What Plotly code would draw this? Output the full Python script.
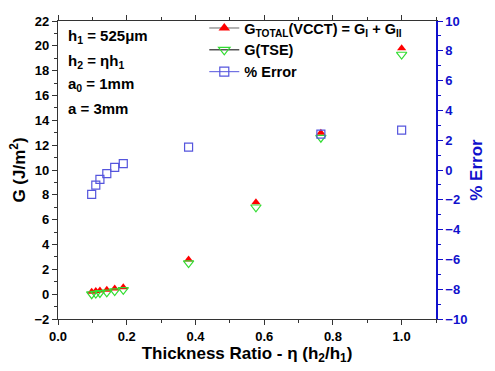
import plotly.graph_objects as go

eta = [0.098, 0.11, 0.122, 0.142, 0.165, 0.19, 0.38, 0.576, 0.765, 1.0]
g_total = [0.2, 0.25, 0.3, 0.35, 0.45, 0.55, 2.8, 7.4, 13.0, 19.8]
g_tse = [0.0, 0.05, 0.1, 0.15, 0.25, 0.35, 2.5, 7.0, 12.6, 19.3]
err = [-1.63, -1.02, -0.63, -0.24, 0.17, 0.43, 1.54, 2.41, 2.67]
err_eta = [0.098, 0.11, 0.122, 0.142, 0.165, 0.19, 0.38, 0.765, 1.0]

FONT = "Liberation Sans"
BLUE = "#1010CC"

fig = go.Figure()
fig.add_trace(go.Scatter(x=eta, y=g_total, mode="markers", showlegend=False,
                         marker=dict(symbol="triangle-up", size=8, color="#FF0000", line=dict(width=0))))
fig.add_trace(go.Scatter(x=eta, y=g_tse, mode="markers", showlegend=False,
                         marker=dict(symbol="triangle-down-open", size=9, color="#33DD33", line=dict(width=1.2))))
fig.add_trace(go.Scatter(x=err_eta, y=err, mode="markers", showlegend=False, yaxis="y2",
                         marker=dict(symbol="square-open", size=8, color="#5555DD", line=dict(width=1.2))))

# legend entries
fig.add_trace(go.Scatter(x=[None], y=[None], mode="lines+markers",
                         name="G<sub>TOTAL</sub>(VCCT) = G<sub>I</sub> + G<sub>II</sub>",
                         line=dict(color="#666666", width=1),
                         marker=dict(symbol="triangle-up", size=10, color="#FF0000")))
fig.add_trace(go.Scatter(x=[None], y=[None], mode="lines+markers", name="G(TSE)",
                         line=dict(color="#000000", width=1),
                         marker=dict(symbol="triangle-down-open", size=10, color="#33DD33", line=dict(width=1.2))))
fig.add_trace(go.Scatter(x=[None], y=[None], mode="lines+markers", name="% Error",
                         line=dict(color="#5555DD", width=1),
                         marker=dict(symbol="square-open", size=9, color="#5555DD", line=dict(width=1.2))))

fig.update_layout(
    width=495, height=371,
    margin=dict(l=58, r=52, t=13, b=51),
    plot_bgcolor="white", paper_bgcolor="white",
    font=dict(family=FONT, size=13, color="black"),
    showlegend=True,
    legend=dict(x=(207 - 58) / 385, y=1.03, xanchor="left", yanchor="top", bgcolor="rgba(0,0,0,0)",
                font=dict(family=FONT, size=14.5, color="black", weight="bold"),
                tracegroupgap=0, itemwidth=30),
    xaxis=dict(range=[0, 1.1], dtick=0.2, tick0=0, tickformat=".1f",
               showgrid=False, zeroline=False, showline=True, linecolor="#333333", linewidth=1.2,
               mirror="ticks", ticks="outside", ticklen=5, tickcolor="#333333",
               minor=dict(ticks="outside", dtick=0.1, ticklen=3, tickcolor="#333333"),
               tickfont=dict(family=FONT, size=13, color="black", weight="bold"),
               title=dict(text="Thickness Ratio - η (h<sub>2</sub>/h<sub>1</sub>)",
                          font=dict(family=FONT, size=17, color="black", weight="bold"), standoff=3)),
    yaxis=dict(range=[-2, 22], dtick=2, tick0=0,
               showgrid=False, zeroline=False, showline=True, linecolor="#333333", linewidth=1.2,
               ticks="outside", ticklen=5, tickcolor="#333333",
               minor=dict(ticks="outside", dtick=1, ticklen=3, tickcolor="#333333"),
               tickfont=dict(family=FONT, size=13, color="black", weight="bold"),
               title=dict(text="G (J/m<sup>2</sup>)",
                          font=dict(family=FONT, size=17, color="black", weight="bold"), standoff=4)),
    yaxis2=dict(range=[-10, 10], dtick=2, tick0=0, overlaying="y", side="right",
                showgrid=False, zeroline=False, showline=True, linecolor=BLUE, linewidth=1.5,
                ticks="outside", ticklen=5, tickcolor=BLUE,
                minor=dict(ticks="outside", dtick=1, ticklen=3, tickcolor=BLUE),
                tickfont=dict(family=FONT, size=13, color=BLUE, weight="bold"),
                title=dict(text="% Error", font=dict(family=FONT, size=17, color=BLUE, weight="bold"),
                           standoff=4)),
)

labels = ["h<sub>1</sub> = 525μm", "h<sub>2</sub> = ηh<sub>1</sub>", "a<sub>0</sub> = 1mm", "a = 3mm"]
ypix = [29, 55, 78, 103]
for t, yp in zip(labels, ypix):
    fig.add_annotation(text=t, x=(66 - 58) / 385, y=(320 - yp) / 307, xref="paper", yref="paper",
                       xanchor="left", yanchor="middle", showarrow=False,
                       font=dict(family=FONT, size=15, color="black", weight="bold"))

fig.write_html("out.html")
